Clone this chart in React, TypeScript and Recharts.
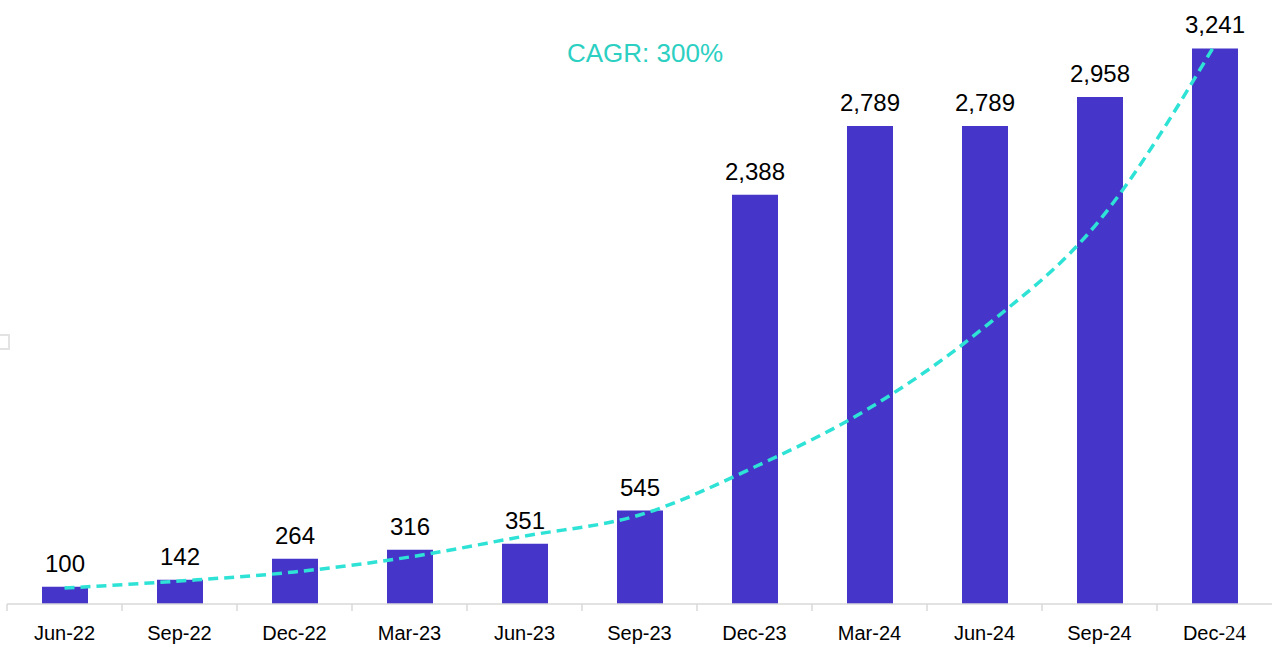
import { Bar, ComposedChart, LabelList, Line, XAxis, YAxis } from "recharts";

const periods = ["Jun-22", "Sep-22", "Dec-22", "Mar-23", "Jun-23", "Sep-23", "Dec-23", "Mar-24", "Jun-24", "Sep-24", "Dec-24"];
const indexValues = [100, 142, 264, 316, 351, 545, 2388, 2789, 2789, 2958, 3241];
const trendValues = [93, 134, 187, 274, 396, 519, 799, 1143, 1615, 2238, 3259];

const data = periods.map((p, i) => ({ period: p, value: indexValues[i], trend: trendValues[i] }));

const BAND = 115;
const SANS = "Liberation Sans, Arial, sans-serif";

function PeriodTick(props: any) {
  const { x, y, payload } = props;
  const label: string = payload.value;
  const isLast = label === "Dec-24";
  return (
    <g>
      <line x1={x - BAND / 2} x2={x - BAND / 2} y1={y - 8} y2={y - 1} stroke="#D9D9D9" strokeWidth={1.5} />
      <text x={x} y={y + 28} textAnchor="middle" fontSize={20} fontFamily={SANS} fill="#000">
        {isLast ? (
          <>
            <tspan>Dec-</tspan>
            <tspan fontFamily="Liberation Serif, Times New Roman, serif" fontSize={21}>24</tspan>
          </>
        ) : (
          label
        )}
      </text>
    </g>
  );
}

export default function App() {
  return (
    <div style={{ position: "fixed", left: 0, top: 0, width: 1272, height: 647, background: "#fff" }}>
      <ComposedChart width={1272} height={647} data={data} margin={{ top: 4, right: 0, left: 7, bottom: 0 }}>
        <XAxis
          dataKey="period"
          height={43}
          axisLine={{ stroke: "#D9D9D9", strokeWidth: 1.5 }}
          tickLine={false}
          tick={<PeriodTick />}
          interval={0}
        />
        <YAxis hide domain={[0, 3500]} />
        <Bar dataKey="value" fill="#4535C8" barSize={46} isAnimationActive={false}>
          <LabelList dataKey="value" position="top" offset={15} fontSize={24} fontFamily={SANS} fill="#000"
            formatter={(v: any) => Number(v).toLocaleString("en-US")} />
        </Bar>
        <Line
          dataKey="trend"
          type="monotone"
          stroke="#2EE3D6"
          strokeWidth={3.5}
          strokeDasharray="10 6"
          dot={false}
          activeDot={false}
          isAnimationActive={false}
        />
      </ComposedChart>
      <div style={{ position: "absolute", left: 567, top: 38, fontFamily: SANS, fontSize: 26, color: "#2CD0C2", whiteSpace: "nowrap" }}>
        CAGR: 300%
      </div>
      <div style={{ position: "absolute", left: -2, top: 334, width: 8, height: 12, border: "2px solid #E3E3E3" }} />
    </div>
  );
}
